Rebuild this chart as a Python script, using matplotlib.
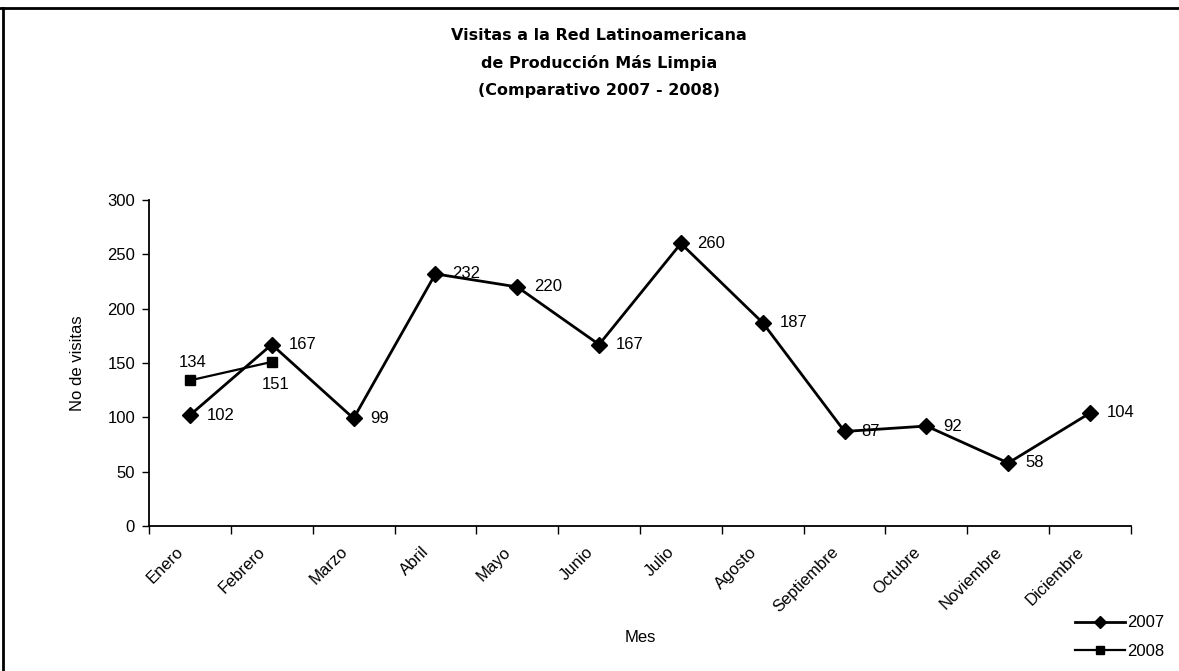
import matplotlib.pyplot as plt
from matplotlib.lines import Line2D

plt.rcParams['font.family'] = ['Liberation Sans', 'DejaVu Sans']

meses = ['Enero', 'Febrero', 'Marzo', 'Abril', 'Mayo', 'Junio', 'Julio',
         'Agosto', 'Septiembre', 'Octubre', 'Noviembre', 'Diciembre']
visitas_2007 = [102, 167, 99, 232, 220, 167, 260, 187, 87, 92, 58, 104]
visitas_2008 = [134, 151]
titulo = ['Visitas a la Red Latinoamericana',
          'de Producción Más Limpia',
          '(Comparativo 2007 - 2008)']

W, H = 1179, 671
fig = plt.figure(figsize=(W / 100, H / 100), dpi=100)
# plot area: x 149..1131 px, y 200..526 px
ax = fig.add_axes([149 / W, 1 - 526 / H, (1131 - 149) / W, (526 - 200) / H])

FS = 12
x07 = list(range(len(visitas_2007)))
x08 = list(range(len(visitas_2008)))
l07, = ax.plot(x07, visitas_2007, color='black', lw=2, marker='D', ms=8,
               label='2007')
l08, = ax.plot(x08, visitas_2008, color='black', lw=1.6, marker='s', ms=7.5,
               label='2008')

# data labels, Excel style (right of the point)
for xi, v in zip(x07, visitas_2007):
    ax.annotate(str(v), (xi, v), xytext=(12, 0), textcoords='offset points',
                ha='left', va='center', fontsize=FS)
# 2008: first above, second below
ax.annotate(str(visitas_2008[0]), (0, visitas_2008[0]), xytext=(2, 13),
            textcoords='offset points', ha='center', va='center', fontsize=FS)
ax.annotate(str(visitas_2008[1]), (1, visitas_2008[1]), xytext=(3, -16),
            textcoords='offset points', ha='center', va='center', fontsize=FS)

ax.set_xlim(-0.5, len(meses) - 0.5)
ax.set_ylim(0, 300)
ax.set_yticks(range(0, 301, 50))
# month labels sit a little left of the category centre, as in Excel
ax.set_xticks([x - 0.17 for x in x07])
ax.set_xticklabels(meses, rotation=45, ha='right', rotation_mode='anchor',
                   fontsize=FS)
ax.set_xticks([i - 0.5 for i in range(len(meses) + 1)], minor=True)
ax.tick_params(axis='x', which='major', length=0, pad=13)
ax.tick_params(axis='x', which='minor', length=6, width=1, direction='out')
ax.tick_params(axis='y', length=5, width=1, direction='out', labelsize=FS,
               pad=5)
for s in ['top', 'right']:
    ax.spines[s].set_visible(False)
for s in ['left', 'bottom']:
    ax.spines[s].set_linewidth(1.3)

ax.set_ylabel('No de visitas', fontsize=FS, labelpad=16)
ax.set_xlabel('Mes', fontsize=FS)
ax.xaxis.set_label_coords(0.5, -(637 - 526) / (526 - 200), transform=ax.transAxes)
ax.xaxis.label.set_va('center')

for i, linea in enumerate(titulo):
    fig.text(599 / W, 1 - (35 + 28 * i) / H, linea, ha='center', va='center',
             fontsize=11.5, fontweight='bold', family='DejaVu Sans')

ax.legend(handles=[l07, l08], loc='center right', frameon=False,
          bbox_to_anchor=(1.0, 1 - 637 / H), bbox_transform=fig.transFigure,
          fontsize=FS, handlelength=3.0, handletextpad=0.1, labelspacing=0.8,
          markerscale=0.8)

# page border (top and left)
fig.add_artist(Line2D([0, 1], [1 - 8 / H, 1 - 8 / H], color='black', lw=2,
                      transform=fig.transFigure))
fig.add_artist(Line2D([2.5 / W, 2.5 / W], [0, 1 - 8 / H], color='black',
                      lw=2, transform=fig.transFigure))

fig.savefig('out.png', dpi=100)
